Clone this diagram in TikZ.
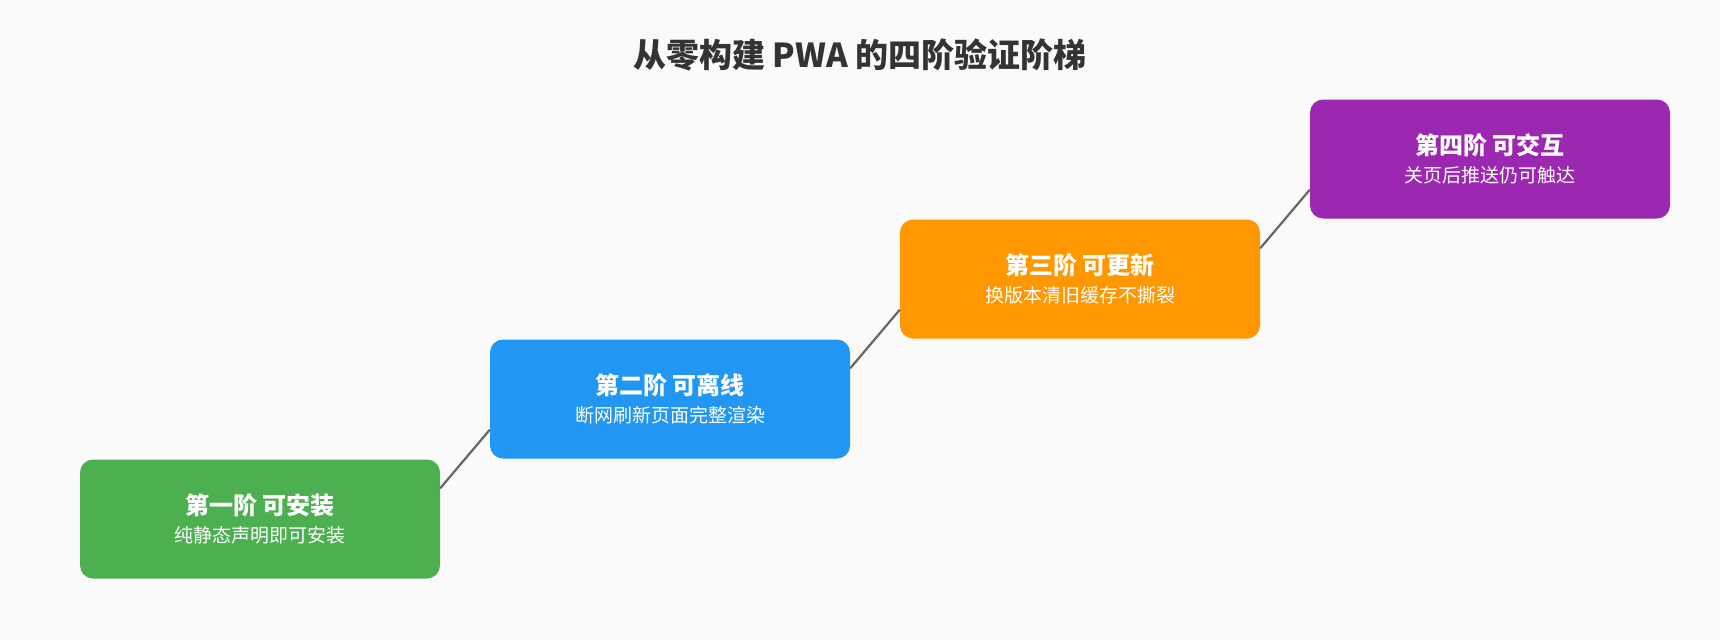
\documentclass[tikz,border=0pt]{standalone}
\usepackage{fontspec}
\setmainfont{Noto Sans CJK SC}
\usetikzlibrary{positioning}
\definecolor{bgc}{HTML}{FAFAFA}
\definecolor{titlec}{HTML}{333333}
\definecolor{linec}{HTML}{666666}
\definecolor{stepa}{HTML}{4CAF50}
\definecolor{stepb}{HTML}{2196F3}
\definecolor{stepc}{HTML}{FF9800}
\definecolor{stepd}{HTML}{9C27B0}
\begin{document}
\begin{tikzpicture}
  [
    x=1pt, y=1pt,
    rung/.style = {rounded corners=13pt, minimum width=360pt, minimum height=119pt,
                   text=white, align=center, inner sep=0pt},
    link/.style = {draw=linec, line width=2.2pt},
  ]

%Background and page size
\fill[bgc] (0,0) rectangle (1720,-640);
\useasboundingbox (0,0) rectangle (1720,-640);

%Title
\node[text=titlec, font=\fontsize{33}{38}\selectfont\bfseries] (title) at (860,-55)
  {从零构建 PWA 的四阶验证阶梯};

%Steps of the ladder
\foreach [count=\i] \name/\col/\head/\sub in
  {sa/stepa/第一阶 可安装/纯静态声明即可安装,
   sb/stepb/第二阶 可离线/断网刷新页面完整渲染,
   sc/stepc/第三阶 可更新/换版本清旧缓存不撕裂,
   sd/stepd/第四阶 可交互/关页后推送仍可触达}
{
\node[rung, fill=\col] (\name) at ({260+(\i-1)*410}, {-519+(\i-1)*120})
  {{\fontsize{24}{28}\selectfont\bfseries \head}\\[8pt]{\fontsize{19}{22}\selectfont \sub}};
}

%Connectors between steps
\draw[link] ([yshift=-29pt]sa.north east) -- ([yshift=29pt]sb.south west);
\draw[link] ([yshift=-29pt]sb.north east) -- ([yshift=29pt]sc.south west);
\draw[link] ([yshift=-29pt]sc.north east) -- ([yshift=29pt]sd.south west);
\end{tikzpicture}
\end{document}
